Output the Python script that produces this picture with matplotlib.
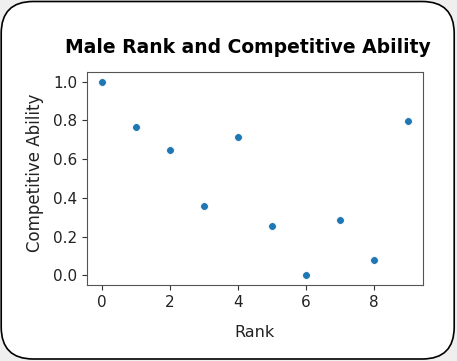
import matplotlib
matplotlib.use("Agg")
import matplotlib.pyplot as plt
from matplotlib.patches import FancyBboxPatch

# data
rank = [0, 1, 2, 3, 4, 5, 6, 7, 8, 9]
ability = [1.0, 0.764, 0.648, 0.359, 0.715, 0.256, 0.0, 0.285, 0.081, 0.799]

fig = plt.figure(figsize=(4.57, 3.61), dpi=100)
fig.patch.set_facecolor("#efefef")

# rounded white card with black border (inch coordinates)
card = FancyBboxPatch((0.012, 0.02), 4.53, 3.575,
                      boxstyle="round,pad=0,rounding_size=0.32",
                      transform=fig.dpi_scale_trans, facecolor="white",
                      edgecolor="black", linewidth=1.2, zorder=-1)
fig.add_artist(card)

ax = fig.add_axes([86.7 / 457, 1 - 285 / 361, (423.3 - 86.7) / 457, (285 - 72) / 361])
ax.set_facecolor("white")
ax.scatter(rank, ability, s=32, color="#1f77b4", edgecolor="white", linewidth=0.6, zorder=3)

ax.set_xticks([0, 2, 4, 6, 8])
ax.set_yticks([0.0, 0.2, 0.4, 0.6, 0.8, 1.0])
ax.tick_params(labelsize=11, colors="#333333", labelcolor="#222222")
for s in ax.spines.values():
    s.set_color("#555555")

ax.set_xlabel("Rank", fontsize=11.5, labelpad=11, color="#222222")
ax.set_ylabel("Competitive Ability", fontsize=12, color="#222222")
ax.yaxis.set_label_coords(-0.127, 0.525)
ax.set_title("Male Rank and Competitive Ability", fontsize=13.5, fontweight="bold", pad=14, x=0.48)

fig.savefig("out.png", dpi=100, facecolor=fig.get_facecolor())
